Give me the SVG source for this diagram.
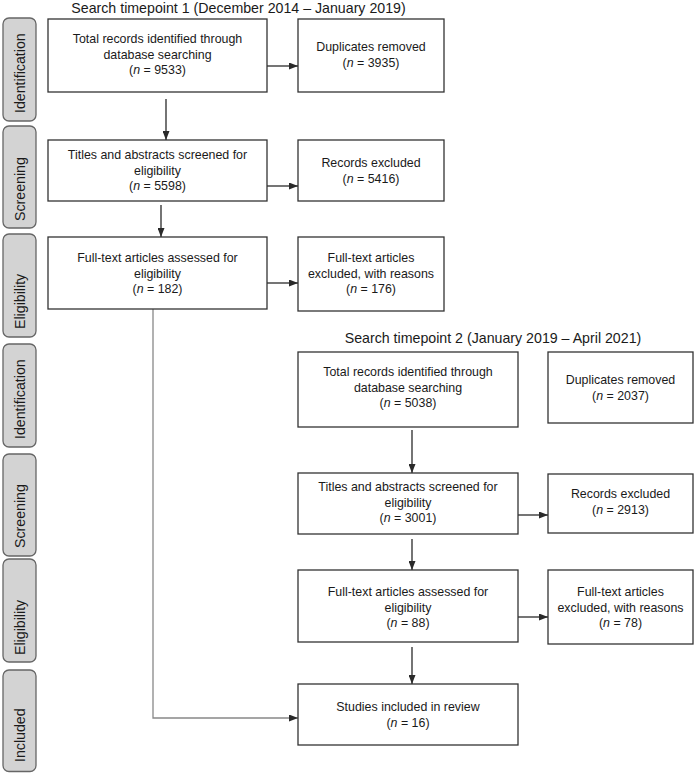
<svg xmlns="http://www.w3.org/2000/svg" width="694" height="773" viewBox="0 0 694 773">
<style>
  text { font-family: "Liberation Sans", Arial, sans-serif; fill: #1a1a1a; }
  .title { font-size: 14.2px; text-anchor: middle; }
  .lbl { font-size: 14.2px; text-anchor: start; }
  .t { font-size: 12.4px; text-anchor: middle; }
  .stage { fill: #d3d3d3; stroke: #666; stroke-width: 1.3; }
  .box { fill: #fff; stroke: #333; stroke-width: 1.3; }
  .conn { fill: none; stroke: #3a3a3a; stroke-width: 1.4; }
  .conn2 { fill: none; stroke: #888; stroke-width: 1.3; }
</style>
<defs>
  <marker id="ah" markerUnits="userSpaceOnUse" markerWidth="9" markerHeight="7" refX="9" refY="3.5" orient="auto">
    <path d="M0,0 L9,3.5 L0,7 z" fill="#2a2a2a"/>
  </marker>
</defs>
<rect width="694" height="773" fill="#fff"/>

<text class="title" x="238.5" y="13">Search timepoint 1 (December 2014 – January 2019)</text>
<text class="title" x="493" y="343">Search timepoint 2 (January 2019 – April 2021)</text>

<g id="stages">
  <g id="stage-ident1"><rect class="stage" x="3" y="18" width="33" height="103" rx="6"/><text class="lbl" transform="translate(24.5,113) rotate(-90)">Identification</text></g>
  <g id="stage-screen1"><rect class="stage" x="3" y="126" width="33" height="102" rx="6"/><text class="lbl" transform="translate(24.5,221) rotate(-90)">Screening</text></g>
  <g id="stage-elig1"><rect class="stage" x="3" y="234" width="33" height="103" rx="6"/><text class="lbl" transform="translate(24.5,329) rotate(-90)">Eligibility</text></g>
  <g id="stage-ident2"><rect class="stage" x="3" y="344" width="33" height="103" rx="6"/><text class="lbl" transform="translate(24.5,439) rotate(-90)">Identification</text></g>
  <g id="stage-screen2"><rect class="stage" x="3" y="454" width="33" height="102" rx="6"/><text class="lbl" transform="translate(24.5,548) rotate(-90)">Screening</text></g>
  <g id="stage-elig2"><rect class="stage" x="3" y="559" width="33" height="103" rx="6"/><text class="lbl" transform="translate(24.5,655) rotate(-90)">Eligibility</text></g>
  <g id="stage-incl"><rect class="stage" x="3" y="670" width="33" height="101.5" rx="6"/><text class="lbl" transform="translate(24.5,762) rotate(-90)">Included</text></g>
</g>

<g id="connectors">
  <line class="conn" x1="267" y1="66" x2="298" y2="66" marker-end="url(#ah)"/>
  <line class="conn" x1="166" y1="99" x2="166" y2="140" marker-end="url(#ah)"/>
  <line class="conn" x1="267" y1="186" x2="298" y2="186" marker-end="url(#ah)"/>
  <line class="conn" x1="161" y1="205" x2="161" y2="237" marker-end="url(#ah)"/>
  <line class="conn" x1="267" y1="283" x2="298" y2="283" marker-end="url(#ah)"/>
  <path class="conn2" d="M153,309 L153,718 L298,718" marker-end="url(#ah)"/>
  <line class="conn" x1="412" y1="430" x2="412" y2="473" marker-end="url(#ah)"/>
  <line class="conn" x1="518" y1="515" x2="548" y2="515" marker-end="url(#ah)"/>
  <line class="conn" x1="412" y1="539" x2="412" y2="570" marker-end="url(#ah)"/>
  <line class="conn" x1="518" y1="617" x2="548" y2="617" marker-end="url(#ah)"/>
  <line class="conn" x1="412" y1="647" x2="412" y2="684" marker-end="url(#ah)"/>
</g>

<g id="n-total1">
  <rect class="box" x="48" y="19" width="219" height="73"/>
  <text class="t" x="157.5" y="43">Total records identified through</text>
  <text class="t" x="157.5" y="58.5">database searching</text>
  <text class="t" x="157.5" y="74">(<tspan font-style="italic">n</tspan> = 9533)</text>
</g>
<g id="n-dup1">
  <rect class="box" x="298" y="19" width="146" height="73"/>
  <text class="t" x="371" y="51">Duplicates removed</text>
  <text class="t" x="371" y="66.5">(<tspan font-style="italic">n</tspan> = 3935)</text>
</g>
<g id="n-screen1">
  <rect class="box" x="48" y="140" width="219" height="61"/>
  <text class="t" x="157.5" y="159">Titles and abstracts screened for</text>
  <text class="t" x="157.5" y="174.5">eligibility</text>
  <text class="t" x="157.5" y="190">(<tspan font-style="italic">n</tspan> = 5598)</text>
</g>
<g id="n-excl1">
  <rect class="box" x="298" y="140" width="146" height="61"/>
  <text class="t" x="371" y="167">Records excluded</text>
  <text class="t" x="371" y="182.5">(<tspan font-style="italic">n</tspan> = 5416)</text>
</g>
<g id="n-elig1">
  <rect class="box" x="48" y="237" width="219" height="72"/>
  <text class="t" x="157.5" y="262">Full-text articles assessed for</text>
  <text class="t" x="157.5" y="277.5">eligibility</text>
  <text class="t" x="157.5" y="293">(<tspan font-style="italic">n</tspan> = 182)</text>
</g>
<g id="n-ftex1">
  <rect class="box" x="298" y="237" width="146" height="74"/>
  <text class="t" x="371" y="262">Full-text articles</text>
  <text class="t" x="371" y="277.5">excluded, with reasons</text>
  <text class="t" x="371" y="293">(<tspan font-style="italic">n</tspan> = 176)</text>
</g>

<g id="n-total2">
  <rect class="box" x="298" y="352" width="220" height="75"/>
  <text class="t" x="408" y="376">Total records identified through</text>
  <text class="t" x="408" y="391.5">database searching</text>
  <text class="t" x="408" y="407">(<tspan font-style="italic">n</tspan> = 5038)</text>
</g>
<g id="n-dup2">
  <rect class="box" x="548" y="352" width="145" height="71"/>
  <text class="t" x="620.5" y="384">Duplicates removed</text>
  <text class="t" x="620.5" y="399.5">(<tspan font-style="italic">n</tspan> = 2037)</text>
</g>
<g id="n-screen2">
  <rect class="box" x="298" y="473" width="220" height="61"/>
  <text class="t" x="408" y="491">Titles and abstracts screened for</text>
  <text class="t" x="408" y="506.5">eligibility</text>
  <text class="t" x="408" y="522">(<tspan font-style="italic">n</tspan> = 3001)</text>
</g>
<g id="n-excl2">
  <rect class="box" x="548" y="474" width="145" height="59"/>
  <text class="t" x="620.5" y="498">Records excluded</text>
  <text class="t" x="620.5" y="513.5">(<tspan font-style="italic">n</tspan> = 2913)</text>
</g>
<g id="n-elig2">
  <rect class="box" x="298" y="570" width="220" height="72"/>
  <text class="t" x="408" y="596">Full-text articles assessed for</text>
  <text class="t" x="408" y="611.5">eligibility</text>
  <text class="t" x="408" y="627">(<tspan font-style="italic">n</tspan> = 88)</text>
</g>
<g id="n-ftex2">
  <rect class="box" x="548" y="570" width="145" height="74"/>
  <text class="t" x="620.5" y="596">Full-text articles</text>
  <text class="t" x="620.5" y="611.5">excluded, with reasons</text>
  <text class="t" x="620.5" y="627">(<tspan font-style="italic">n</tspan> = 78)</text>
</g>
<g id="n-included">
  <rect class="box" x="298" y="684" width="220" height="61"/>
  <text class="t" x="408" y="711">Studies included in review</text>
  <text class="t" x="408" y="726.5">(<tspan font-style="italic">n</tspan> = 16)</text>
</g>
</svg>
